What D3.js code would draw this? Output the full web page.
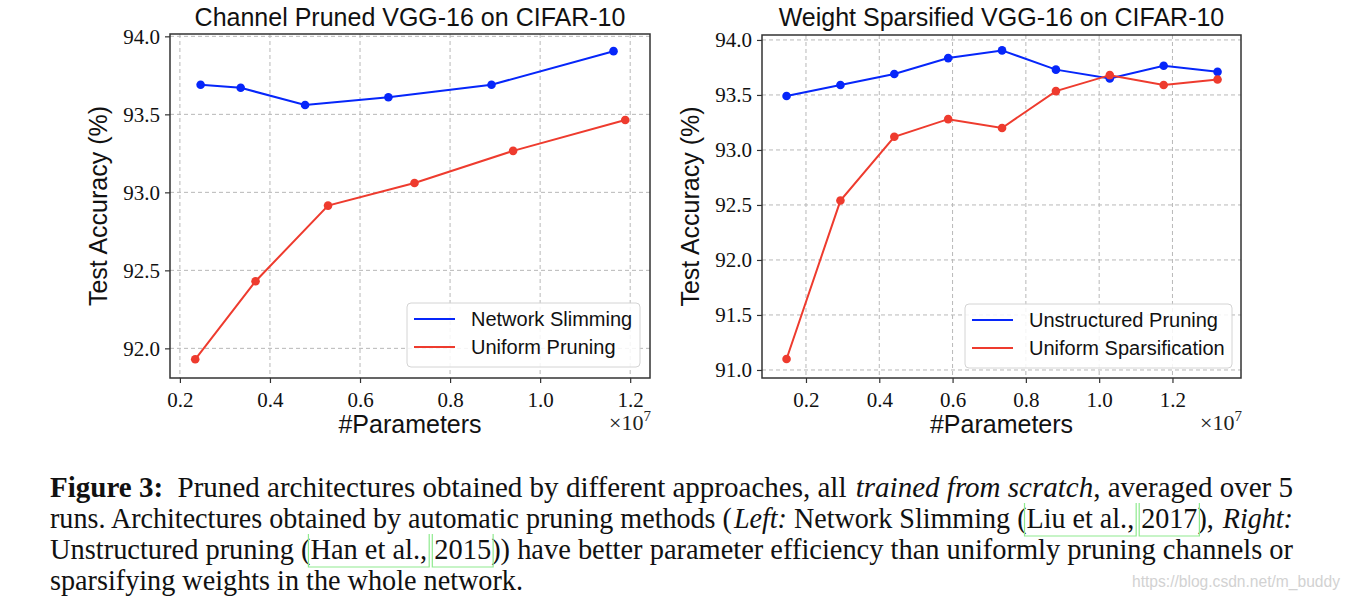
<!DOCTYPE html>
<html><head><meta charset="utf-8">
<script src="https://cdn.jsdelivr.net/npm/d3@7"></script>
<style>body{margin:0;background:#fff;overflow:hidden}</style>
</head><body>
<svg id="c" width="1346" height="602"></svg>
<script>
// ---------- data ----------
const xTicks = [0.2, 0.4, 0.6, 0.8, 1.0, 1.2];
const leftYTicks = [92.0, 92.5, 93.0, 93.5, 94.0];
const rightYTicks = [91.0, 91.5, 92.0, 92.5, 93.0, 93.5, 94.0];

const leftTitle = "Channel Pruned VGG-16 on CIFAR-10";
const rightTitle = "Weight Sparsified VGG-16 on CIFAR-10";
const yLabel = "Test Accuracy (%)";
const xLabel = "#Parameters";

const slimmingParams = [0.246, 0.335, 0.478, 0.663, 0.892, 1.163];
const slimmingAcc    = [93.69, 93.67, 93.56, 93.61, 93.69, 93.905];
const uniformPruneParams = [0.234, 0.368, 0.529, 0.721, 0.940, 1.189];
const uniformPruneAcc    = [91.93, 92.43, 92.915, 93.06, 93.266, 93.464];

const sparseParams = [0.147, 0.294, 0.441, 0.588, 0.735, 0.882, 1.029, 1.176, 1.323];
const unstructuredAcc = [93.49, 93.59, 93.69, 93.835, 93.905, 93.73, 93.65, 93.765, 93.71];
const uniformSparseAcc = [91.10, 92.54, 93.12, 93.28, 93.20, 93.535, 93.68, 93.59, 93.64];

const leftLegend = ["Network Slimming", "Uniform Pruning"];
const rightLegend = ["Unstructured Pruning", "Uniform Sparsification"];

const captionLines = [
  [["b","Figure 3:"],["n","  Pruned architectures obtained by different approaches, all "],["i","trained from scratch"],["n",", averaged over 5"]],
  [["n","runs. Architectures obtained by automatic pruning methods ("],["i","Left:"],["n"," Network Slimming ("],["c","Liu et al.,"],["n"," "],["c","2017"],["n","), "],["i","Right:"]],
  [["n","Unstructured pruning ("],["c","Han et al.,"],["n"," "],["c","2015"],["n",")) have better parameter efficiency than uniformly pruning channels or"]],
  [["n","sparsifying weights in the whole network."]]
];
const watermark = "https://blog.csdn.net/m_buddy";

// ---------- drawing ----------
const svg = d3.select("#c");
const BLUE = "#0626fa", RED = "#ee3b2e";
const sans = "'Liberation Sans', Arial, sans-serif";
const serif = "'Liberation Serif', 'Times New Roman', serif";

function panel(cfg) {
  const x = d3.scaleLinear().domain(cfg.xDomain).range([cfg.left, cfg.right]);
  const y = d3.scaleLinear().domain(cfg.yDomain).range([cfg.bottom, cfg.top]);
  const g = svg.append("g");

  // grid
  g.append("g").selectAll("line").data(xTicks).join("line")
    .attr("x1", d => x(d)).attr("x2", d => x(d)).attr("y1", cfg.top).attr("y2", cfg.bottom)
    .attr("stroke", "#b8b8b8").attr("stroke-width", 1).attr("stroke-dasharray", "4,3");
  g.append("g").selectAll("line").data(cfg.yTicks).join("line")
    .attr("y1", d => y(d)).attr("y2", d => y(d)).attr("x1", cfg.left).attr("x2", cfg.right)
    .attr("stroke", "#b8b8b8").attr("stroke-width", 1).attr("stroke-dasharray", "4,3");

  // axes
  const xa = g.append("g").attr("transform", `translate(0,${cfg.bottom})`)
    .call(d3.axisBottom(x).tickValues(xTicks).tickFormat(d3.format(".1f")).tickSizeOuter(0).tickSize(5).tickPadding(6));
  const ya = g.append("g").attr("transform", `translate(${cfg.left},0)`)
    .call(d3.axisLeft(y).tickValues(cfg.yTicks).tickFormat(d3.format(".1f")).tickSizeOuter(0).tickSize(5).tickPadding(5));
  [xa, ya].forEach(a => {
    a.select(".domain").remove();
    a.selectAll("line").attr("stroke", "#333").attr("stroke-width", 1.2);
    a.selectAll("text").attr("font-family", serif).attr("font-size", 21).attr("fill", "#111");
  });
  xa.selectAll("text").attr("dy", "0.85em");

  // series
  const line = d3.line().x(d => x(d[0])).y(d => y(d[1]));
  cfg.series.forEach(s => {
    const pts = s.xs.map((v, i) => [v, s.ys[i]]);
    g.append("path").datum(pts).attr("d", line).attr("fill", "none")
      .attr("stroke", s.color).attr("stroke-width", 2);
    g.append("g").selectAll("circle").data(pts).join("circle")
      .attr("cx", d => x(d[0])).attr("cy", d => y(d[1])).attr("r", 4.3).attr("fill", s.color);
  });

  // frame
  g.append("rect").attr("x", cfg.left).attr("y", cfg.top)
    .attr("width", cfg.right - cfg.left).attr("height", cfg.bottom - cfg.top)
    .attr("fill", "none").attr("stroke", "#333").attr("stroke-width", 1.5);

  // legend
  const L = cfg.legend;
  g.append("rect").attr("x", L.x).attr("y", L.y).attr("width", L.w).attr("height", 64)
    .attr("rx", 4).attr("fill", "#fff").attr("fill-opacity", 0.85)
    .attr("stroke", "#d4d4d4").attr("stroke-width", 1);
  cfg.series.forEach((s, i) => {
    const ly = L.y + 16 + i * 28;
    g.append("line").attr("x1", L.x + 7).attr("x2", L.x + 48).attr("y1", ly).attr("y2", ly)
      .attr("stroke", s.color).attr("stroke-width", 2.2);
    g.append("text").attr("x", L.x + 64).attr("y", ly + 7).text(s.name)
      .attr("font-family", sans).attr("font-size", 20).attr("fill", "#111");
  });

  const cx = (cfg.left + cfg.right) / 2;
  g.append("text").attr("x", cx).attr("y", 26).attr("text-anchor", "middle").text(cfg.title)
    .attr("font-family", sans).attr("font-size", 25).attr("fill", "#111");
  g.append("text").attr("x", cx).attr("y", 433).attr("text-anchor", "middle").text(xLabel)
    .attr("font-family", sans).attr("font-size", 25).attr("fill", "#111");
  g.append("text").attr("transform", `translate(${cfg.left - 63},${(cfg.top + cfg.bottom) / 2}) rotate(-90)`)
    .attr("text-anchor", "middle").text(yLabel)
    .attr("font-family", sans).attr("font-size", 25).attr("fill", "#111");
  const ex = g.append("text").attr("x", cfg.right + 1).attr("y", 430).attr("text-anchor", "end")
    .attr("font-family", serif).attr("font-size", 22).attr("fill", "#222");
  ex.append("tspan").text("×10");
  ex.append("tspan").attr("font-size", 15).attr("dy", -9).text("7");
}

panel({
  left: 170, right: 650, top: 34, bottom: 378,
  xDomain: [0.178, 1.244], yDomain: [91.81, 94.015], yTicks: leftYTicks,
  title: leftTitle,
  series: [
    {name: leftLegend[0], xs: slimmingParams, ys: slimmingAcc, color: BLUE},
    {name: leftLegend[1], xs: uniformPruneParams, ys: uniformPruneAcc, color: RED}
  ],
  legend: {x: 407, y: 303, w: 233}
});
panel({
  left: 762, right: 1241, top: 35, bottom: 378,
  xDomain: [0.08, 1.387], yDomain: [90.927, 94.045], yTicks: rightYTicks,
  title: rightTitle,
  series: [
    {name: rightLegend[0], xs: sparseParams, ys: unstructuredAcc, color: BLUE},
    {name: rightLegend[1], xs: sparseParams, ys: uniformSparseAcc, color: RED}
  ],
  legend: {x: 965, y: 304, w: 267}
});

// caption
const capBase = [497, 528, 559, 590];
const capWidth = [1243, 1243, 1243, 473];
const cap = svg.append("g");
captionLines.forEach((segs, li) => {
  const t = cap.append("text").attr("x", 50).attr("y", capBase[li])
    .attr("font-family", serif).attr("font-size", 28.5).attr("fill", "#111")
    .attr("xml:space", "preserve")
    .attr("textLength", capWidth[li]).attr("lengthAdjust", "spacingAndGlyphs");
  let pos = 0;
  const boxes = [];
  segs.forEach(([k, s], si) => {
    const ts = t.append("tspan").text(s);
    if (k === "b") ts.attr("font-weight", "bold");
    if (k === "i") { ts.attr("font-style", "italic"); if (si > 0) ts.attr("dx", 2); }
    if (k === "c") boxes.push([pos, pos + s.length - 1]);
    pos += s.length;
  });
  const node = t.node();
  boxes.forEach(([a, b]) => {
    try {
      const ea = node.getExtentOfChar(a), eb = node.getExtentOfChar(b);
      const x0 = ea.x - 2, x1 = eb.x + eb.width + 2;
      const y0 = capBase[li] - 25, y1 = capBase[li] + 8;
      cap.append("path").attr("d", `M${x0},${y0}V${y1}H${x1}V${y0}`)
        .attr("fill", "none").attr("stroke", "#8fea8f").attr("stroke-width", 1.2);
    } catch (e) {}
  });
});
svg.append("text").attr("x", 1132).attr("y", 587).text(watermark)
  .attr("font-family", sans).attr("font-size", 16).attr("fill", "#d2d2d2")
  .attr("textLength", 208).attr("lengthAdjust", "spacingAndGlyphs");
</script>
</body></html>
